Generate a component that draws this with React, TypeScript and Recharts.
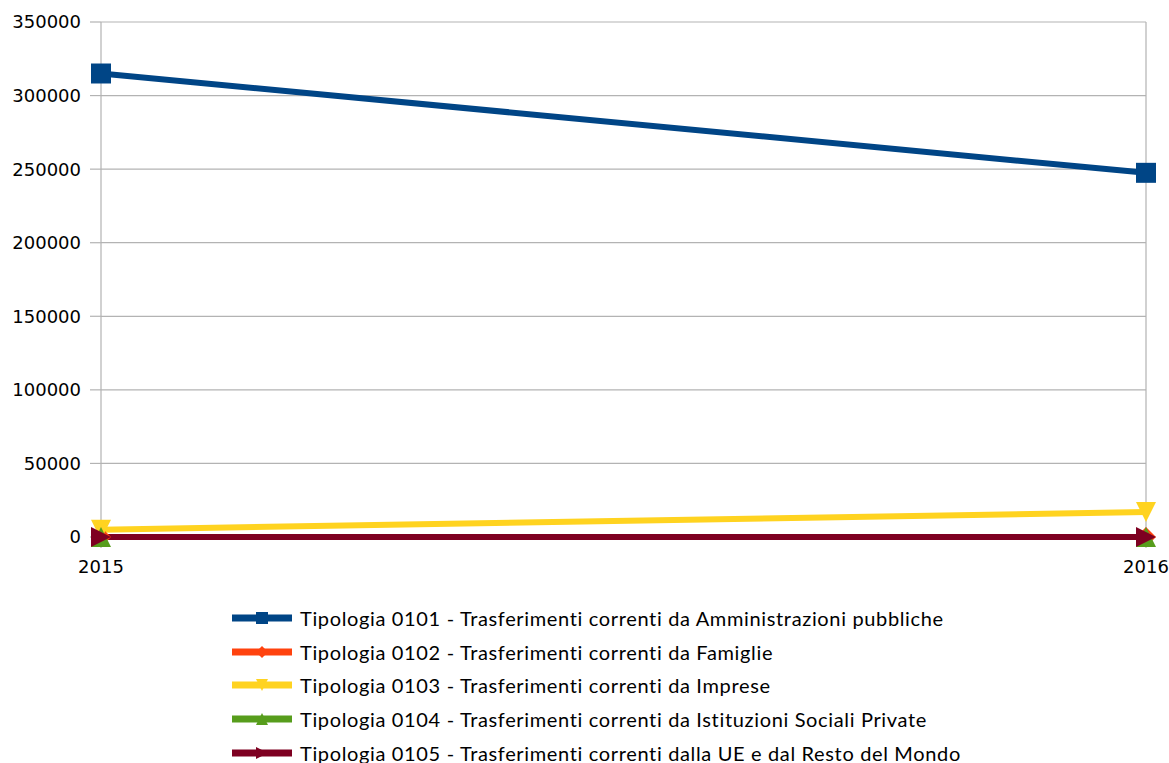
import { CartesianGrid, Legend, Line, LineChart, XAxis, YAxis } from "recharts"

const years = ["2015", "2016"]
const tipologia0101 = [315000, 247500]
const tipologia0102 = [0, 0]
const tipologia0103 = [5000, 17000]
const tipologia0104 = [0, 0]
const tipologia0105 = [0, 0]
const yTicks = [0, 50000, 100000, 150000, 200000, 250000, 300000, 350000]

const SERIES = [
    { key: "t0101", name: "Tipologia 0101 - Trasferimenti correnti da Amministrazioni pubbliche", values: tipologia0101, color: "#004586", shape: "square" },
    { key: "t0102", name: "Tipologia 0102 - Trasferimenti correnti da Famiglie", values: tipologia0102, color: "#ff420e", shape: "diamond" },
    { key: "t0103", name: "Tipologia 0103 - Trasferimenti correnti da Imprese", values: tipologia0103, color: "#ffd320", shape: "down" },
    { key: "t0104", name: "Tipologia 0104 - Trasferimenti correnti da Istituzioni Sociali Private", values: tipologia0104, color: "#579d1c", shape: "up" },
    { key: "t0105", name: "Tipologia 0105 - Trasferimenti correnti dalla UE e dal Resto del Mondo", values: tipologia0105, color: "#7e0021", shape: "right" },
]

const data = years.map((year, i) => {
    const row: any = { year }
    SERIES.forEach(s => { row[s.key] = s.values[i] })
    return row
})

function markerPath(shape: string, cx: number, cy: number, r: number) {
    switch (shape) {
        case "square":
            return `M${cx - r},${cy - r}h${2 * r}v${2 * r}h${-2 * r}Z`
        case "diamond":
            return `M${cx},${cy - r}L${cx + r},${cy}L${cx},${cy + r}L${cx - r},${cy}Z`
        case "down":
            return `M${cx - r},${cy - r}L${cx + r},${cy - r}L${cx},${cy + r}Z`
        case "up":
            return `M${cx - r},${cy + r}L${cx + r},${cy + r}L${cx},${cy - r}Z`
        default:
            return `M${cx - r},${cy - r}L${cx + r},${cy}L${cx - r},${cy + r}Z`
    }
}

const makeDot = (shape: string, color: string) => (props: any) => {
    const { cx, cy, index } = props
    if (cx == null || cy == null) return <g key={index} />
    return <path key={index} d={markerPath(shape, cx, cy, 10)} fill={color} />
}

const renderLegend = () => (
    <ul style={{ listStyle: "none", margin: 0, padding: 0, fontFamily: "Lato, 'Open Sans', sans-serif", fontSize: 20, color: "#000" }}>
        {SERIES.map(s => (
            <li key={s.key} style={{ display: "flex", alignItems: "center", height: 33.8 }}>
                <svg width={62} height={20} style={{ marginRight: 6 }}>
                    <line x1={0} y1={10} x2={60} y2={10} stroke={s.color} strokeWidth={7} />
                    <path d={markerPath(s.shape, 30, 10, 6)} fill={s.color} />
                </svg>
                <span style={{ letterSpacing: 0.65 }}>{s.name}</span>
            </li>
        ))}
    </ul>
)

export default function App() {
    return (
        <div style={{ position: "absolute", left: 0, top: 0, width: 1169, height: 763, background: "#fff" }}>
            <LineChart
                width={1169}
                height={763}
                data={data}
                margin={{ top: 22, right: 23, left: 0, bottom: 196 }}
            >
                <CartesianGrid stroke="#b3b3b3" strokeWidth={1.2} />
                <XAxis
                    dataKey="year"
                    axisLine={false}
                    tickLine={{ stroke: "#b3b3b3", strokeWidth: 1.2 }}
                    tickSize={11}
                    tickMargin={12}
                    tick={{ fill: "#000", fontSize: 18, fontFamily: "DejaVu Sans" }}
                />
                <YAxis
                    width={101}
                    domain={[0, 350000]}
                    ticks={yTicks}
                    interval={0}
                    axisLine={false}
                    tickLine={{ stroke: "#b3b3b3", strokeWidth: 1.2 }}
                    tickSize={11}
                    tickMargin={9}
                    tick={{ fill: "#000", fontSize: 18, fontFamily: "DejaVu Sans" }}
                />
                <Legend
                    layout="vertical"
                    align="center"
                    verticalAlign="middle"
                    content={renderLegend}
                    wrapperStyle={{ position: "absolute", left: 232, top: 601, width: 900 }}
                />
                {SERIES.map(s => (
                    <Line
                        key={s.key}
                        type="linear"
                        dataKey={s.key}
                        name={s.name}
                        stroke={s.color}
                        strokeWidth={6}
                        dot={makeDot(s.shape, s.color)}
                        activeDot={false}
                        isAnimationActive={false}
                    />
                ))}
            </LineChart>
        </div>
    )
}
